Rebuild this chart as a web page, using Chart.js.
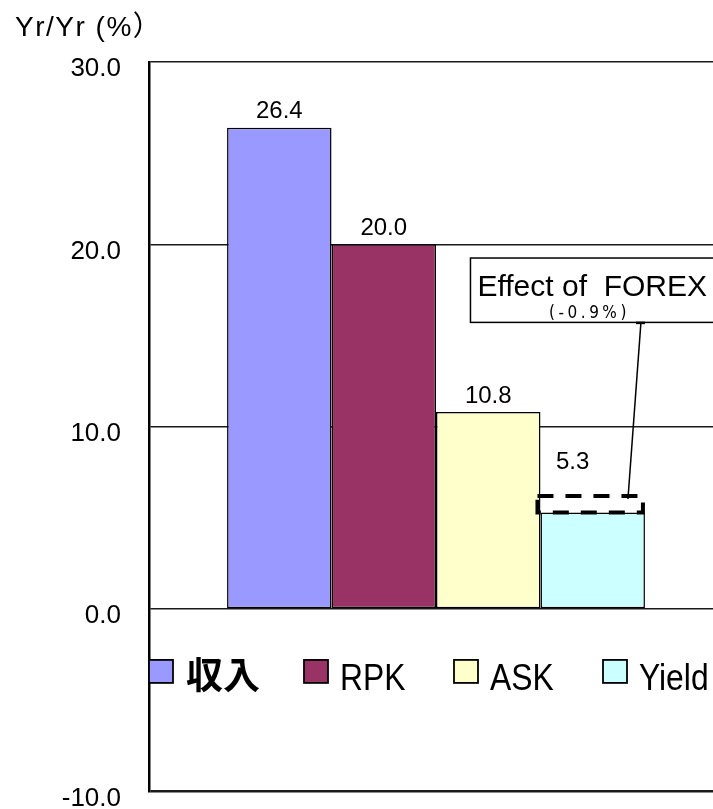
<!DOCTYPE html>
<html>
<head>
<meta charset="utf-8">
<script src="https://cdn.jsdelivr.net/npm/chart.js@4.4.1/dist/chart.umd.min.js"></script>
<style>
  html, body { margin: 0; padding: 0; background: #fff; overflow: hidden; }
  #wrap { width: 740px; height: 835px; position: relative; }
</style>
</head>
<body>
<div id="wrap"><canvas id="c" width="740" height="835"></canvas></div>
<script>
// Year-over-year change by indicator (%)
const seriesLabels = ['収入', 'RPK', 'ASK', 'Yield'];
const seriesValues = [26.4, 20.0, 10.8, 5.3];
const seriesColors = ['#9999FF', '#993366', '#FFFFCC', '#CCFFFF'];
const yTicks = [-10, 0, 10, 20, 30];
const forexEffect = -0.9;
const yAxisTitle = 'Yr/Yr (%）';
const forexTitle = 'Effect of  FOREX';

const LATIN = '"Liberation Sans", Arial, sans-serif';
const CJK = '"Noto Sans CJK JP", sans-serif';

// Value labels above each bar
const valueLabels = {
  id: 'valueLabels',
  afterDatasetsDraw(chart) {
    const ctx = chart.ctx;
    const ys = chart.scales.y;
    ctx.save();
    ctx.font = '24px ' + LATIN;
    ctx.fillStyle = '#000';
    ctx.textAlign = 'center';
    ctx.textBaseline = 'alphabetic';
    chart.data.datasets.forEach((ds, i) => {
      const bar = chart.getDatasetMeta(i).data[0];
      const v = ds.data[0];
      let x = bar.x, y = bar.y - 9.5;
      if (i === seriesValues.length - 1) {
        // the last label sits above the currency-effect box
        x -= 20;
        y = ys.getPixelForValue(v - forexEffect) - 27;
      }
      ctx.fillText(v.toFixed(1), x, y);
    });
    ctx.restore();
  }
};

// Currency effect: dashed box on the Yield bar plus a callout
const forexCallout = {
  id: 'forexCallout',
  afterDatasetsDraw(chart) {
    const ctx = chart.ctx;
    const ys = chart.scales.y;
    const idx = seriesValues.length - 1;
    const bar = chart.getDatasetMeta(idx).data[0];
    const v = seriesValues[idx];
    const left = bar.x - bar.width / 2;
    const right = bar.x + bar.width / 2;
    const yLow = ys.getPixelForValue(v);
    const yHigh = ys.getPixelForValue(v - forexEffect);

    ctx.save();
    // dashed outline of the effect
    ctx.strokeStyle = '#000';
    ctx.lineWidth = 4;
    ctx.setLineDash([16, 12]);
    ctx.strokeRect(left - 3, yHigh, right - left + 1, yLow - yHigh);
    ctx.setLineDash([]);

    // callout box
    const bx = left - 70;
    const bTop = ys.getPixelForValue(19.25);
    const bBot = ys.getPixelForValue(15.72);
    ctx.fillStyle = '#fff';
    ctx.fillRect(bx, bTop, chart.width - bx + 20, bBot - bTop);
    ctx.lineWidth = 1.5;
    ctx.strokeRect(bx, bTop, chart.width - bx + 20, bBot - bTop);

    ctx.fillStyle = '#000';
    ctx.textAlign = 'left';
    ctx.textBaseline = 'alphabetic';
    ctx.font = '30px ' + LATIN;
    ctx.fillText(forexTitle, bx + 7, bTop + 38);

    const sub = '(' + forexEffect.toFixed(1) + '%)';
    ctx.font = '17px "DejaVu Sans Condensed", ' + LATIN;
    ctx.textAlign = 'center';
    ctx.letterSpacing = '3.5px';
    ctx.fillText(sub, bx + 119, bBot - 4);
    ctx.letterSpacing = '0px';

    // leader line
    ctx.lineWidth = 1.5;
    ctx.beginPath();
    ctx.moveTo(right - 4, bBot);
    ctx.lineTo(right - 17, yHigh + 3);
    ctx.stroke();
    ctx.lineWidth = 2.5;
    ctx.beginPath();
    ctx.moveTo(right - 9, bBot + 0.5);
    ctx.lineTo(right, bBot + 0.5);
    ctx.stroke();
    ctx.restore();
  }
};

// Legend drawn inside the plot, below the zero line
const innerLegend = {
  id: 'innerLegend',
  afterDraw(chart) {
    const ctx = chart.ctx;
    const ys = chart.scales.y;
    const cy = ys.getPixelForValue(-3.42);
    const boxX = [149, 304, 454, 603];
    const squeeze = 0.86;
    ctx.save();
    ctx.textAlign = 'left';
    chart.data.datasets.forEach((ds, i) => {
      const x = boxX[i];
      ctx.fillStyle = ds.backgroundColor;
      ctx.fillRect(x, cy - 11.5, 24, 23);
      ctx.strokeStyle = '#000';
      ctx.lineWidth = 1.8;
      ctx.strokeRect(x, cy - 11.5, 24, 23);
      ctx.fillStyle = '#000';
      const isCjk = /[^\x00-\x7F]/.test(ds.label);
      if (isCjk) {
        ctx.font = 'bold 37px ' + CJK;
        ctx.textBaseline = 'middle';
        ctx.fillText(ds.label, x + 37, cy + 4);
      } else {
        // condensed lettering for the Latin entries
        ctx.save();
        ctx.font = '37px ' + LATIN;
        ctx.textBaseline = 'alphabetic';
        ctx.translate(x + 36, cy + 18.5);
        ctx.scale(squeeze, 1);
        ctx.fillText(ds.label, 0, 0);
        ctx.restore();
      }
    });
    ctx.restore();
  }
};

// Axis title in the top-left corner
const axisTitle = {
  id: 'axisTitle',
  afterDraw(chart) {
    const ctx = chart.ctx;
    ctx.save();
    ctx.fillStyle = '#000';
    ctx.textAlign = 'left';
    ctx.textBaseline = 'alphabetic';
    ctx.font = '28px ' + LATIN + ', ' + CJK;
    ctx.letterSpacing = '1.5px';
    ctx.fillText(yAxisTitle, 15, 36);
    ctx.restore();
  }
};

new Chart(document.getElementById('c'), {
  type: 'bar',
  data: {
    labels: [''],
    datasets: seriesLabels.map((label, i) => ({
      label,
      data: [seriesValues[i]],
      backgroundColor: seriesColors[i],
      borderColor: '#000',
      borderWidth: 1.5,
      borderSkipped: false,
      categoryPercentage: 0.728,
      barPercentage: 1.0
    }))
  },
  options: {
    responsive: false,
    animation: false,
    layout: { padding: { left: 0, top: 62, right: 17, bottom: 19 } },
    plugins: {
      legend: { display: false },
      tooltip: { enabled: false }
    },
    scales: {
      x: { display: false, offset: true },
      y: {
        min: yTicks[0],
        max: yTicks[yTicks.length - 1],
        afterFit(scale) { scale.width = 149; },
        afterBuildTicks(scale) { scale.ticks = yTicks.map(v => ({ value: v })); },
        ticks: {
          padding: 28,
          labelOffset: 7,
          color: '#000',
          font: { family: LATIN, size: 26 },
          callback: v => Number(v).toFixed(1)
        },
        grid: {
          drawTicks: false,
          color: '#1a1a1a',
          lineWidth: ctx => (ctx.tick && ctx.tick.value === yTicks[0]) ? 2.5 : 1.5
        },
        border: { display: true, color: '#000', width: 2.5 }
      }
    }
  },
  plugins: [valueLabels, forexCallout, innerLegend, axisTitle]
});
</script>
</body>
</html>
